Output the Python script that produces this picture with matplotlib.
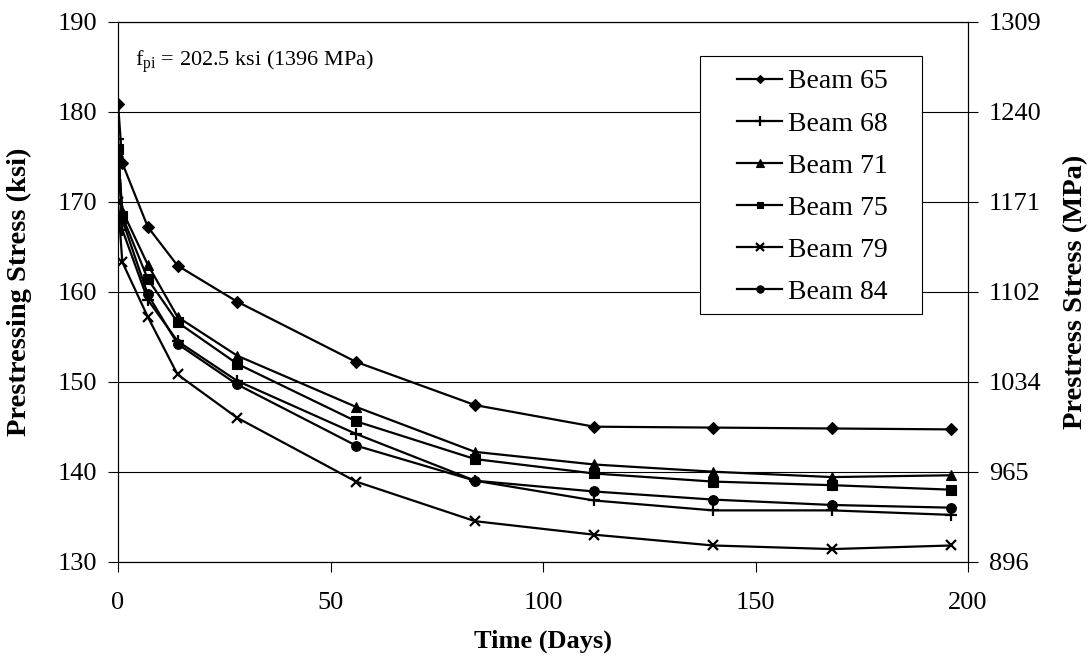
import matplotlib.pyplot as plt
import matplotlib.ticker as ticker
from matplotlib.patches import Rectangle

plt.rcParams['font.family'] = ['Liberation Serif', 'DejaVu Serif']
plt.rcParams['mathtext.fontset'] = 'custom'
plt.rcParams['mathtext.rm'] = 'Liberation Serif'

# Time after release (days)
days = [0, 1, 7, 14, 28, 56, 84, 112, 140, 168, 196]

# Prestressing stress readings (ksi)
beam65 = [180.9, 174.3, 167.2, 162.9, 158.9, 152.2, 147.4, 145.0, 144.9, 144.8, 144.7]
beam68 = [177.0, 166.9, 159.1, 154.5, 150.1, 144.2, 139.0, 136.8, 135.7, 135.7, 135.2]
beam71 = [175.5, 169.0, 163.0, 157.2, 152.9, 147.2, 142.2, 140.8, 140.0, 139.4, 139.6]
beam75 = [175.9, 168.4, 161.4, 156.6, 152.0, 145.6, 141.4, 139.8, 138.9, 138.5, 138.0]
beam79 = [170.0, 163.3, 157.2, 150.8, 146.0, 138.9, 134.5, 133.0, 131.8, 131.4, 131.8]
beam84 = [174.4, 168.0, 159.7, 154.2, 149.7, 142.9, 139.0, 137.8, 136.9, 136.3, 136.0]

ksi_ticks = [130, 140, 150, 160, 170, 180, 190]
mpa_labels = ['896', '965', '1034', '1102', '1171', '1240', '1309']

fig = plt.figure(figsize=(10.91, 6.64), dpi=100)
ax = fig.add_axes([0.1082, 0.1541, 0.7791, 0.8132])

series = [
    (beam65, 'Beam 65', 'D', 6),
    (beam68, 'Beam 68', '+', 9),
    (beam71, 'Beam 71', '^', 7),
    (beam75, 'Beam 75', 's', 6.5),
    (beam79, 'Beam 79', 'x', 7),
    (beam84, 'Beam 84', 'o', 7),
]
for vals, name, mk, ms in series:
    ax.plot(days, vals, color='black', lw=1.6, marker=mk, markersize=ms,
            markeredgewidth=1.6 if mk in '+x' else 0.8, label=name)

ax.set_xlim(0, 200)
ax.set_ylim(130, 190)
ax.xaxis.set_major_locator(ticker.MultipleLocator(50))
ax.set_yticks(ksi_ticks)
ax.grid(True, axis='y', color='black', lw=0.8)
ax.set_axisbelow(True)
ax.tick_params(direction='out', length=7, width=0.8, labelsize=19, pad=8)
ax.tick_params(axis='x', pad=15)

ax.set_xlabel('Time (Days)', fontsize=19, fontweight='bold')
ax.set_ylabel('Prestressing Stress (ksi)', fontsize=20.5, fontweight='bold')
ax.xaxis.set_label_coords(0.5, -0.126)
ax.yaxis.set_label_coords(-0.101, 0.5)

# Metric scale on the right
ax2 = ax.twinx()
ax2.set_ylim(130, 190)
ax2.set_yticks(ksi_ticks)
ax2.set_yticklabels(mpa_labels)
ax2.tick_params(direction='out', length=7, width=0.8, labelsize=19, pad=8)
ax2.set_ylabel('Prestress Stress (MPa)', fontsize=20.5, fontweight='bold')
ax2.yaxis.set_label_coords(1.112, 0.5)

ax.text(0.02, 0.918, r'f$_{\mathrm{pi}}$ = 202.5 ksi (1396 MPa)', transform=ax.transAxes,
        fontsize=16, va='baseline')

# Legend box drawn separately to get the wide side padding
ax.add_patch(Rectangle((0.6847, 0.4587), 0.2612, 0.478, transform=ax.transAxes,
                       facecolor='white', edgecolor='black', lw=0.8, zorder=4))
leg = ax.legend(loc='upper left', bbox_to_anchor=(0.7282, 0.9124), fontsize=20,
                frameon=False, handlelength=1.62, handletextpad=0.22,
                labelspacing=0.6, borderpad=0, borderaxespad=0, markerscale=0.75)
leg.set_zorder(5)

fig.savefig('out.png', dpi=100)
